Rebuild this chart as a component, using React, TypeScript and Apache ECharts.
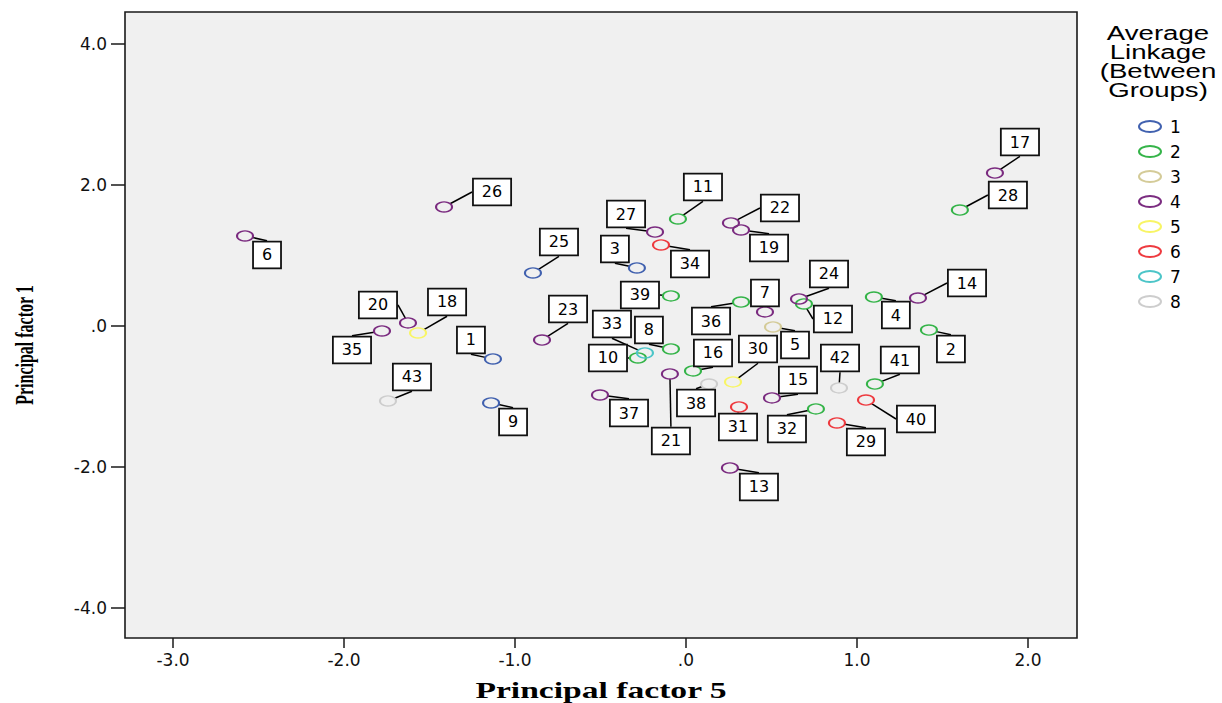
import React, { useEffect, useRef } from 'react';
import * as echarts from 'echarts';

// ---- data ----
const pointIds = [
  1, 2, 3, 4, 5, 6, 7, 8, 9, 10, 11, 12, 13, 14, 15, 16, 17, 18, 19, 20, 21, 22,
  23, 24, 25, 26, 27, 28, 29, 30, 31, 32, 33, 34, 35, 36, 37, 38, 39, 40, 41, 42, 43,
];
// Principal factor 5 (x)
const factor5 = [
  -1.129, 1.421, -0.287, 1.099, 0.509, -2.579, 0.462, -0.088, -1.14, -0.281, -0.047,
  0.69, 0.257, 1.357, 0.503, 0.041, 1.807, -1.567, 0.322, -1.626, -0.094, 0.263,
  -0.842, 0.661, -0.895, -1.415, -0.181, 1.602, 0.883, 0.275, 0.31, 0.76, -0.24,
  -0.146, -1.778, 0.322, -0.503, 0.135, -0.088, 1.053, 1.105, 0.895, -1.743,
];
// Principal factor 1 (y)
const factor1 = [
  -0.468, -0.057, 0.823, 0.411, -0.014, 1.277, 0.199, -0.326, -1.092, -0.454, 1.518,
  0.312, -2.014, 0.397, -1.021, -0.638, 2.17, -0.099, 1.362, 0.043, -0.681, 1.461,
  -0.199, 0.383, 0.752, 1.688, 1.333, 1.645, -1.376, -0.794, -1.149, -1.177, -0.383,
  1.149, -0.071, 0.34, -0.979, -0.823, 0.426, -1.05, -0.823, -0.879, -1.064,
];
// Average linkage cluster of each point
const clusterOf = [
  1, 2, 1, 2, 3, 4, 4, 2, 1, 2, 2, 2, 4, 4, 4, 2, 4, 5, 4, 4, 4, 4,
  4, 4, 1, 4, 4, 2, 6, 5, 6, 2, 7, 6, 4, 2, 4, 8, 2, 6, 2, 8, 8,
];
const clusterNames = ['1', '2', '3', '4', '5', '6', '7', '8'];
const xTicks = [-3, -2, -1, 0, 1, 2];
const yTicks = [-4, -2, 0, 2, 4];

// ---- styling / layout ----
const clusterColors = [
  '#4161AF', '#35B449', '#D4CB98', '#7B2C80', '#F8F565', '#EE3A3F', '#4CC5C8', '#CDCDCD',
];
// label box offsets (px) relative to each point, by point id order
const labelDx = [
  -22, 22, -22, 22, 22, 22, 0, -22, 22, -30, 25, 29, 29, 49, 26, 20, 25, 29, 28, -30, 1, 49,
  26, 30, 26, 48, -29, 48, 29, 25, -1, -29, -33, 29, -30, -30, 29, -13, -31, 50, 25, 1, 24,
];
const labelDy = [
  -19, 19, -19, 18, 18, 19, -19, -19, 19, 0, -32, 15, 19, -15, -18, -18, -31, -31, 18, -18, 67, -15,
  -31, -25, -31, -15, -18, -15, 19, -33, 20, 20, -29, 19, 19, 19, 18, 19, -1, 19, -24, -30, -24,
];

const tickFmt = (v: number) => (Math.abs(v) < 1e-9 ? '.0' : v.toFixed(1));

export default function App() {
  const ref = useRef<HTMLDivElement>(null);

  useEffect(() => {
    document.body.style.margin = '0';
    if (!ref.current) return;
    const chart = echarts.init(ref.current, undefined, { renderer: 'svg' });

    const series = clusterNames.map((name, ci) => {
      const items: number[][] = [];
      pointIds.forEach((id, i) => {
        if (clusterOf[i] === ci + 1) items.push([factor5[i], factor1[i], id]);
      });
      return {
        name,
        type: 'scatter',
        data: items,
        symbol: 'circle',
        symbolSize: [16, 10],
        itemStyle: {
          color: 'rgba(0,0,0,0)',
          borderColor: clusterColors[ci],
          borderWidth: 1.7,
          opacity: 1,
        },
        emphasis: { disabled: true },
        label: {
          show: true,
          position: 'inside',
          formatter: (p: any) => String(p.value[2]),
          fontFamily: 'DejaVu Sans',
          fontSize: 16,
          lineHeight: 18,
          color: '#000',
          backgroundColor: '#ffffff',
          borderColor: '#111',
          borderWidth: 1.8,
          padding: [4, 8, 3, 8],
        },
        labelLine: {
          show: true,
          smooth: false,
          length2: 0,
          lineStyle: { color: '#000', width: 1.5 },
        },
        labelLayout: (p: any) => {
          const id = items[p.dataIndex][2];
          return { dx: labelDx[id - 1], dy: labelDy[id - 1] };
        },
        z: 2,
      };
    });

    chart.setOption({
      animation: false,
      grid: {
        left: 125,
        top: 12,
        width: 952,
        height: 626,
        show: true,
        backgroundColor: '#F0F0F0',
        borderColor: '#1a1a1a',
        borderWidth: 1.6,
      },
      xAxis: {
        type: 'value',
        min: -3.281,
        max: 2.287,
        axisLine: { show: false, onZero: false },
        splitLine: { show: false },
        axisTick: {
          show: true,
          length: 10,
          customValues: xTicks,
          lineStyle: { color: '#1a1a1a', width: 1.5 },
        },
        axisLabel: {
          customValues: xTicks,
          formatter: tickFmt,
          margin: 13,
          fontFamily: 'DejaVu Sans',
          fontSize: 17,
          color: '#111',
        },
      },
      yAxis: {
        type: 'value',
        min: -4.426,
        max: 4.454,
        axisLine: { show: false, onZero: false },
        splitLine: { show: false },
        axisTick: {
          show: true,
          length: 14,
          customValues: yTicks,
          lineStyle: { color: '#1a1a1a', width: 1.5 },
        },
        axisLabel: {
          customValues: yTicks,
          formatter: tickFmt,
          margin: 18,
          fontFamily: 'DejaVu Sans',
          fontSize: 17,
          color: '#111',
        },
      },
      legend: {
        orient: 'vertical',
        left: 1133,
        top: 113,
        itemWidth: 24,
        itemHeight: 11,
        itemGap: 8,
        icon: 'path://M0,5A10,5 0 1,1 20,5A10,5 0 1,1 0,5Z',
        itemStyle: { borderWidth: 2 },
        textStyle: {
          fontFamily: 'DejaVu Sans',
          fontSize: 17,
          color: '#000',
          padding: [0, 0, 0, 3],
        },
        data: clusterNames,
      },
      graphic: [
        {
          type: 'text',
          x: 1158,
          y: 23,
          scaleX: 1.38,
          style: {
            text: 'Average\nLinkage\n(Between\nGroups)',
            font: '20px "Liberation Sans"',
            lineHeight: 19,
            align: 'center',
            verticalAlign: 'top',
            fill: '#000',
          },
        },
        {
          type: 'text',
          x: 601,
          y: 690,
          scaleX: 1.4,
          style: {
            text: 'Principal factor 5',
            font: 'bold 24px "Liberation Serif"',
            align: 'center',
            verticalAlign: 'middle',
            fill: '#000',
          },
        },
        {
          type: 'text',
          x: 25,
          y: 345,
          rotation: Math.PI / 2,
          scaleY: 1.6,
          style: {
            text: 'Principal factor 1',
            font: 'bold 16px "Liberation Serif"',
            align: 'center',
            verticalAlign: 'middle',
            fill: '#000',
          },
        },
      ],
      series,
    });

    return () => chart.dispose();
  }, []);

  return <div ref={ref} style={{ width: 1222, height: 703 }} />;
}
